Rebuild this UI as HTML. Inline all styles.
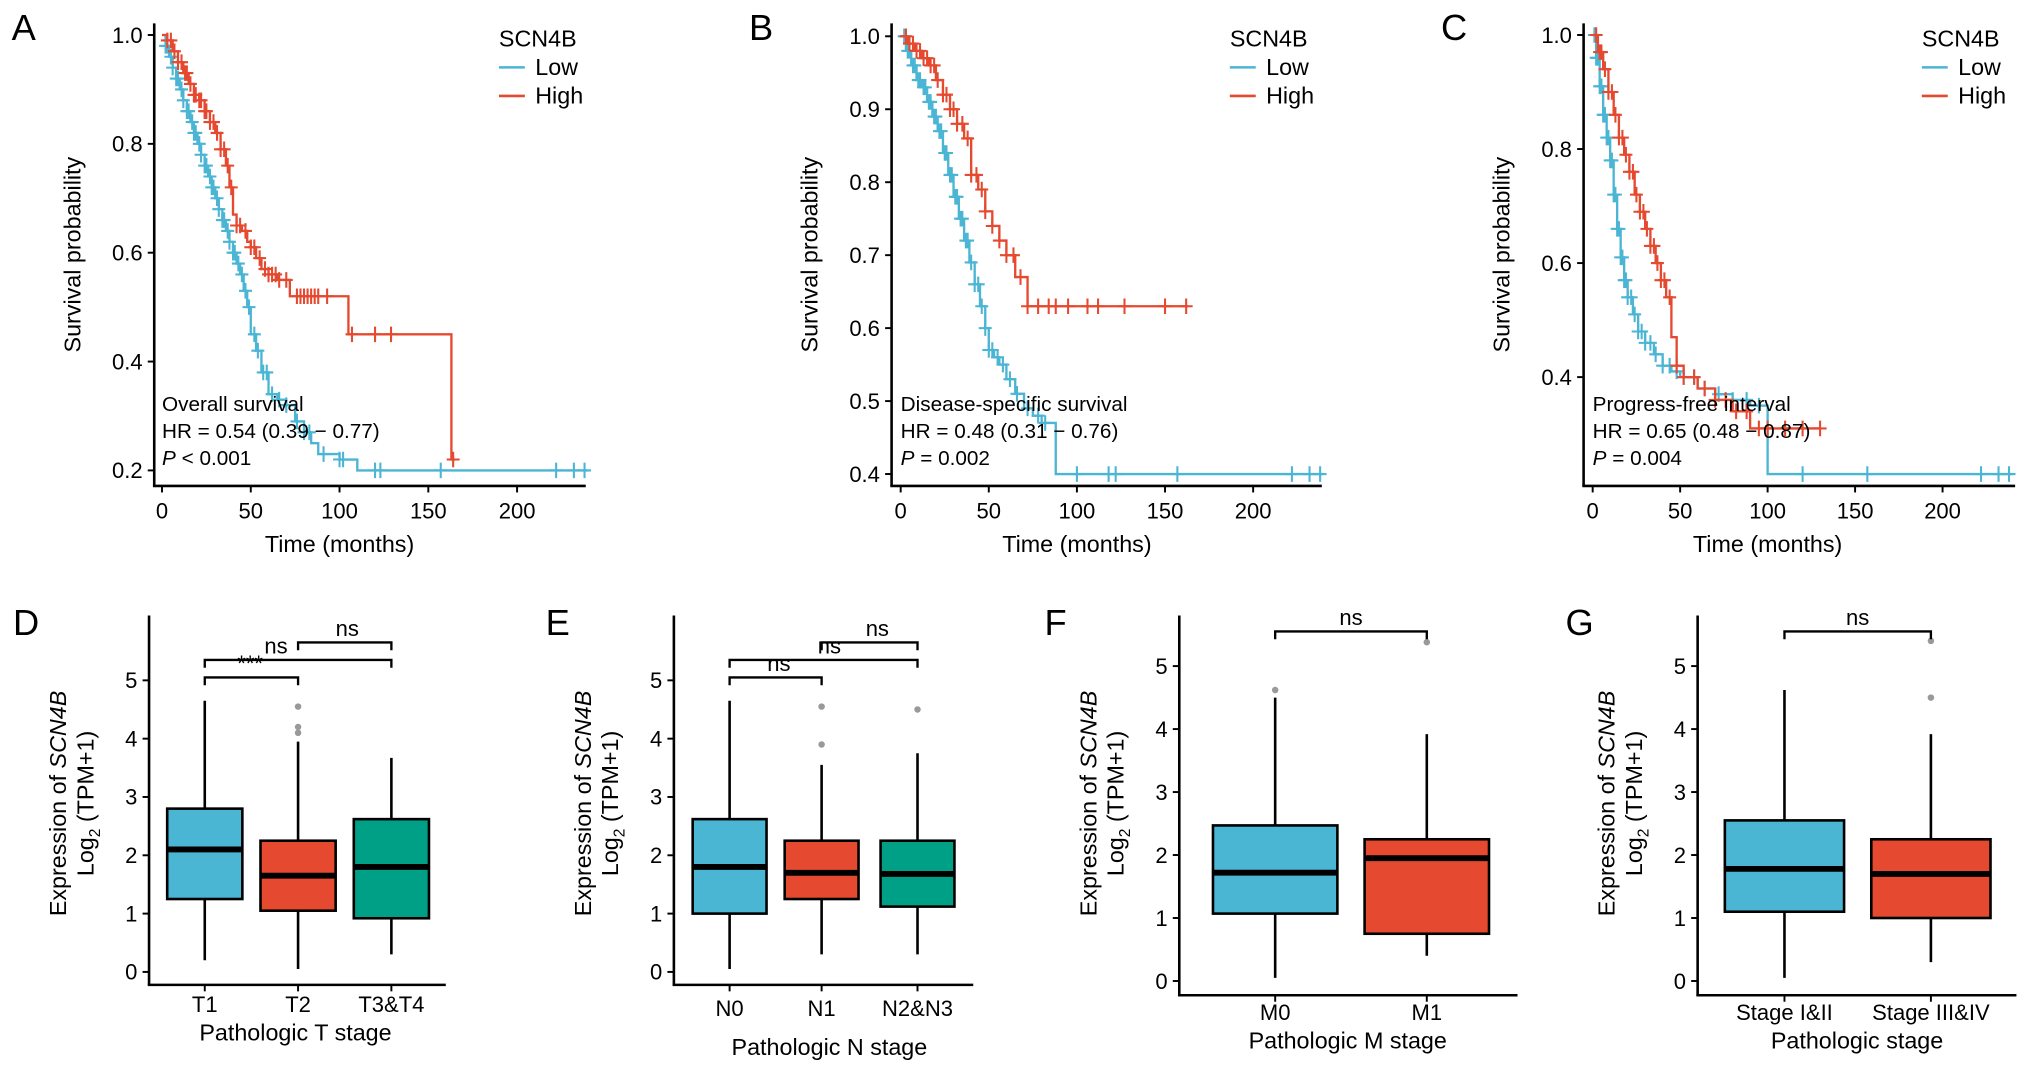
<!DOCTYPE html>
<html><head><meta charset="utf-8"><style>
html,body{margin:0;padding:0;background:#fff;}
svg{display:block;font-family:"Liberation Sans",sans-serif;}
</style></head><body>
<svg id="fig" width="2032" height="1073" viewBox="0 0 1568 828" xmlns="http://www.w3.org/2000/svg"></svg>
<script>
// ---- Survival data (times in months, survival probability) ----
const kmA_low_t=[0,2,4,6,8,10,12,14,16,18,20,22,24,26,28,30,32,34,36,38,40,42,44,46,48,50,53,56,60,65,70,75,80,84,88,100,110,240];
const kmA_low_s=[1,0.98,0.96,0.94,0.92,0.90,0.88,0.86,0.84,0.82,0.80,0.78,0.76,0.74,0.72,0.70,0.68,0.66,0.64,0.62,0.60,0.58,0.56,0.53,0.50,0.45,0.42,0.38,0.34,0.33,0.32,0.29,0.27,0.25,0.23,0.22,0.20,0.20];
const kmA_low_c=[2,3,5,6,8,9,11,12,14,15,17,18,19,21,22,24,25,27,28,29,31,32,34,35,37,38,40,41,43,45,47,49,52,54,57,59,62,66,70,76,80,83,91,100,102,120,123,157,222,232,238];
const kmA_high_t=[0,3,6,9,12,15,18,21,24,27,30,33,36,38,40,42,45,48,50,53,56,60,65,72,105,163,165];
const kmA_high_s=[1,0.99,0.97,0.95,0.93,0.91,0.89,0.88,0.86,0.84,0.82,0.79,0.76,0.72,0.67,0.65,0.64,0.62,0.61,0.59,0.57,0.56,0.55,0.52,0.45,0.22,0.22];
const kmA_high_c=[3,5,7,9,11,13,14,16,18,19,21,22,24,25,27,29,31,33,35,37,39,42,44,47,50,52,55,58,60,62,64,66,70,76,78,80,82,84,86,88,93,107,120,129,164];
const kmB_low_t=[0,3,6,9,12,15,18,21,24,27,30,33,36,39,42,45,48,50,53,56,60,65,70,75,80,88,240];
const kmB_low_s=[1,0.98,0.96,0.94,0.93,0.91,0.89,0.87,0.84,0.81,0.78,0.75,0.72,0.69,0.66,0.63,0.60,0.57,0.56,0.55,0.53,0.51,0.49,0.48,0.47,0.40,0.40];
const kmB_low_c=[2,4,5,7,8,10,11,13,14,16,17,19,20,22,23,25,26,28,29,31,32,34,35,37,38,40,42,44,46,48,50,52,55,58,62,66,72,78,82,100,118,122,157,222,232,238];
const kmB_high_t=[0,4,8,12,16,20,24,28,32,36,40,44,48,52,56,60,65,72,163];
const kmB_high_s=[1,0.99,0.98,0.97,0.96,0.94,0.92,0.90,0.88,0.86,0.81,0.79,0.76,0.74,0.72,0.70,0.67,0.63,0.63];
const kmB_high_c=[3,5,7,9,11,13,15,17,19,21,24,26,28,30,32,35,38,40,43,46,48,52,56,60,64,68,72,78,84,88,95,106,112,127,150,162];
const kmC_low_t=[0,2,4,6,8,10,12,14,16,18,20,23,26,30,35,40,45,50,60,70,80,90,100,240];
const kmC_low_s=[1,0.96,0.91,0.86,0.82,0.78,0.72,0.66,0.61,0.57,0.54,0.51,0.48,0.46,0.44,0.42,0.41,0.40,0.38,0.37,0.36,0.35,0.23,0.23];
const kmC_low_c=[1,2,3,4,5,6,7,8,9,10,11,12,13,14,15,16,17,18,19,20,22,24,26,28,30,33,36,40,44,48,52,58,64,72,80,88,95,120,157,222,232,238];
const kmC_high_t=[0,3,6,9,12,15,18,21,24,27,30,33,36,39,42,45,48,52,60,70,80,90,130];
const kmC_high_s=[1,0.97,0.94,0.90,0.86,0.82,0.79,0.76,0.72,0.69,0.66,0.63,0.60,0.57,0.54,0.47,0.42,0.40,0.38,0.36,0.34,0.31,0.31];
const kmC_high_c=[2,4,5,7,9,11,13,15,17,19,21,23,25,27,29,31,33,35,37,39,41,44,48,52,58,64,70,76,82,88,95,100,110,120,130];

// ---- Boxplot data: [low whisker, q1, median, q3, high whisker] ----
const catsD=["T1","T2","T3&T4"];
const statsD=[[0.2,1.25,2.1,2.8,4.65],[0.05,1.05,1.65,2.25,3.95],[0.3,0.92,1.8,2.62,3.67]];
const outD=[[],[4.1,4.2,4.55],[]];
const catsE=["N0","N1","N2&N3"];
const statsE=[[0.05,1.0,1.8,2.62,4.65],[0.3,1.25,1.7,2.25,3.55],[0.3,1.12,1.68,2.25,3.75]];
const outE=[[],[3.9,4.55],[4.5]];
const catsF=["M0","M1"];
const statsF=[[0.05,1.07,1.72,2.47,4.5],[0.4,0.75,1.95,2.25,3.92]];
const outF=[[4.62],[5.38]];
const catsG=["Stage I&II","Stage III&IV"];
const statsG=[[0.05,1.1,1.78,2.55,4.62],[0.3,1.0,1.7,2.25,3.92]];
const outG=[[],[4.5,5.4]];
const yTicksBox=[0,1,2,3,4,5];

const NS="http://www.w3.org/2000/svg";
const svg=document.getElementById('fig');
function el(tag,attrs,parent,txt){const e=document.createElementNS(NS,tag);for(const k in attrs)e.setAttribute(k,attrs[k]);if(txt!==undefined)e.textContent=txt;(parent||svg).appendChild(e);return e;}
const BLUE="#4bb5d4",RED="#e5492f",GREEN="#00a087";

function stepS(ts,ss,t){let v=ss[0];for(let i=0;i<ts.length;i++){if(ts[i]<=t)v=ss[i];}return v;}

function kmPanel(cfg){
  const g=el('g',{});
  
  
  const X=t=>cfg.x0+t*cfg.xs, Y=s=>cfg.yTop+(cfg.yMax-s)*cfg.ys;
  const ax=el('line',{x1:cfg.ax,y1:18,x2:cfg.ax,y2:cfg.axY,stroke:'#000','stroke-width':2},g);
  
  const axx=el('line',{x1:cfg.ax-1,y1:cfg.axY,x2:cfg.axEnd,y2:cfg.axY,stroke:'#000','stroke-width':2},g);
  
  cfg.yt.forEach(v=>{el('line',{x1:cfg.ax-5,y1:Y(v),x2:cfg.ax,y2:Y(v),stroke:'#000','stroke-width':1.5},g);
    const t=el('text',{x:cfg.ax-9,y:Y(v)+6,'text-anchor':'end','font-size':17},g,v.toFixed(1));
    });
  [0,50,100,150,200].forEach(v=>{el('line',{x1:X(v),y1:cfg.axY,x2:X(v),y2:cfg.axY+5,stroke:'#000','stroke-width':1.5},g);
    const t=el('text',{x:X(v),y:cfg.axY+25,'text-anchor':'middle','font-size':17},g,String(v));
    });
  const xt=el('text',{x:X(100),y:cfg.axY+51,'text-anchor':'middle','font-size':18},g,'Time (months)');
  
  const cy=(18+cfg.axY)/2;
  const yt=el('text',{x:cfg.ax-57,y:cy,'text-anchor':'middle','font-size':18,transform:`rotate(-90 ${cfg.ax-57} ${cy})`},g,'Survival probability');
  
  const lt=el('text',{x:cfg.ax-110,y:31,'font-size':28},g,cfg.letter);
  
  cfg.series.forEach(s=>{
    let d=`M${X(s.t[0])},${Y(s.s[0])}`;
    for(let i=1;i<s.t.length;i++){d+=` H${X(s.t[i])} V${Y(s.s[i])}`;}
    const p=el('path',{d:d,fill:'none',stroke:s.col,'stroke-width':1.8},g);
    
    s.c.forEach(ct=>{const yy=Y(stepS(s.t,s.s,ct));
      const m=el('path',{d:`M${X(ct)},${yy-6} V${yy+6} M${X(ct)-5},${yy} H${X(ct)+5}`,stroke:s.col,'stroke-width':1.6},g);
      });
  });
  const lg=el('g',{},g);
  el('text',{x:cfg.lx,y:36,'font-size':18},lg,'SCN4B');
  [[BLUE,'Low',58],[RED,'High',80]].forEach(a=>{
    const le=el('g',{},lg);
    el('line',{x1:cfg.lx,y1:a[2]-6,x2:cfg.lx+20,y2:a[2]-6,stroke:a[0],'stroke-width':2},le);
    el('text',{x:cfg.lx+28,y:a[2],'font-size':18},le,a[1]);});
  const an=el('g',{},g);
  el('text',{x:X(0),y:317,'font-size':16},an,cfg.title);
  el('text',{x:X(0),y:338,'font-size':16},an,cfg.hr);
  const pt=el('text',{x:X(0),y:359,'font-size':16},an);
  el('tspan',{'font-style':'italic'},pt,'P');el('tspan',{},pt,cfg.p);
}

kmPanel({name:'km-overall-survival',letter:'A',ax:119,axY:375,axEnd:452,x0:125,xs:68.5/50,yTop:27,yMax:1.0,ys:84/0.2,yt:[1.0,0.8,0.6,0.4,0.2],lx:385,
  title:'Overall survival',hr:'HR = 0.54 (0.39 − 0.77)',p:' < 0.001',
  series:[{name:'low',col:BLUE,t:kmA_low_t,s:kmA_low_s,c:kmA_low_c},{name:'high',col:RED,t:kmA_high_t,s:kmA_high_s,c:kmA_high_c}]});
kmPanel({name:'km-disease-specific-survival',letter:'B',ax:688,axY:375,axEnd:1020,x0:695,xs:68/50,yTop:28,yMax:1.0,ys:56.3/0.1,yt:[1.0,0.9,0.8,0.7,0.6,0.5,0.4],lx:949,
  title:'Disease-specific survival',hr:'HR = 0.48 (0.31 − 0.76)',p:' = 0.002',
  series:[{name:'low',col:BLUE,t:kmB_low_t,s:kmB_low_s,c:kmB_low_c},{name:'high',col:RED,t:kmB_high_t,s:kmB_high_s,c:kmB_high_c}]});
kmPanel({name:'km-progress-free-interval',letter:'C',ax:1222,axY:375,axEnd:1555,x0:1229,xs:67.5/50,yTop:27,yMax:1.0,ys:88/0.2,yt:[1.0,0.8,0.6,0.4],lx:1483,
  title:'Progress-free interval',hr:'HR = 0.65 (0.48 − 0.87)',p:' = 0.004',
  series:[{name:'low',col:BLUE,t:kmC_low_t,s:kmC_low_s,c:kmC_low_c},{name:'high',col:RED,t:kmC_high_t,s:kmC_high_s,c:kmC_high_c}]});

function boxPanel(cfg){
  const g=el('g',{});
  
  
  const Y=v=>cfg.y0-v*cfg.ys;
  const ax=el('line',{x1:cfg.ax,y1:475,x2:cfg.ax,y2:cfg.axY,stroke:'#000','stroke-width':2},g);
  
  const axx=el('line',{x1:cfg.ax-1,y1:cfg.axY,x2:cfg.axEnd,y2:cfg.axY,stroke:'#000','stroke-width':2},g);
  
  yTicksBox.forEach(v=>{el('line',{x1:cfg.ax-5,y1:Y(v),x2:cfg.ax,y2:Y(v),stroke:'#000','stroke-width':1.5},g);
    const t=el('text',{x:cfg.ax-9,y:Y(v)+6,'text-anchor':'end','font-size':17},g,String(v));
    });
  const lt=el('text',{x:cfg.letterX,y:490,'font-size':28},g,cfg.letter);
  
  const cy=620;
  const y1=el('text',{x:cfg.ax-64,y:cy,'text-anchor':'middle','font-size':18,transform:`rotate(-90 ${cfg.ax-64} ${cy})`},g);
  
  el('tspan',{},y1,'Expression of ');el('tspan',{'font-style':'italic'},y1,'SCN4B');
  const y2=el('text',{x:cfg.ax-43,y:cy,'text-anchor':'middle','font-size':18,transform:`rotate(-90 ${cfg.ax-43} ${cy})`},g);
  
  el('tspan',{},y2,'Log');el('tspan',{'font-size':12,dy:5},y2,'2');el('tspan',{dy:-5},y2,' (TPM+1)');
  cfg.cats.forEach((c,i)=>{
    const x=cfg.xs[i],st=cfg.stats[i],hw=cfg.bw/2;
    const b=el('g',{},g);
    el('line',{x1:x,y1:Y(st[0]),x2:x,y2:Y(st[4]),stroke:'#000','stroke-width':2},b);
    el('rect',{x:x-hw,y:Y(st[3]),width:cfg.bw,height:Y(st[1])-Y(st[3]),fill:cfg.cols[i],stroke:'#000','stroke-width':2},b);
    el('line',{x1:x-hw,y1:Y(st[2]),x2:x+hw,y2:Y(st[2]),stroke:'#000','stroke-width':4.5},b);
    cfg.out[i].forEach(o=>{const p=el('circle',{cx:x,cy:Y(o),r:2.5,fill:'#999'},g);
      });
    el('line',{x1:x,y1:cfg.axY,x2:x,y2:cfg.axY+5,stroke:'#000','stroke-width':1.5},g);
    const t=el('text',{x:x,y:cfg.axY+cfg.tkOff,'text-anchor':'middle','font-size':17},g,c);
    
  });
  const xt=el('text',{x:cfg.titleX,y:cfg.titleY,'text-anchor':'middle','font-size':18},g,cfg.xtitle);
  
  cfg.brackets.forEach(br=>{
    const a=cfg.xs[br[0]],bb=cfg.xs[br[1]],yy=Y(br[2]);
    const p=el('path',{d:`M${a},${yy+6} V${yy} H${bb} V${yy+6}`,fill:'none',stroke:'#000','stroke-width':1.8},g);
    
    const t=el('text',{x:br[4]!==undefined?br[4]:(a+bb)/2,y:yy-5,'text-anchor':'middle','font-size':17},g,br[3]);
    
  });
}
boxPanel({name:'box-t-stage',letter:'D',letterX:10,ax:115,axY:760,axEnd:344,y0:750,ys:45,xs:[158,230,302],bw:58,cats:catsD,stats:statsD,out:outD,cols:[BLUE,RED,GREEN],tkOff:21,titleX:228,titleY:803,xtitle:'Pathologic T stage',
  brackets:[[0,1,5.05,'***',193],[0,2,5.35,'ns',213],[1,2,5.65,'ns',268]]});
boxPanel({name:'box-n-stage',letter:'E',letterX:421,ax:520,axY:760,axEnd:751,y0:750,ys:45,xs:[563,634,708],bw:57,cats:catsE,stats:statsE,out:outE,cols:[BLUE,RED,GREEN],tkOff:24,titleX:640,titleY:814,xtitle:'Pathologic N stage',
  brackets:[[0,1,5.05,'ns',601],[0,2,5.35,'ns',640],[1,2,5.65,'ns',677]]});
boxPanel({name:'box-m-stage',letter:'F',letterX:806,ax:910,axY:768,axEnd:1171,y0:757,ys:48.6,xs:[984,1101],bw:96,cats:catsF,stats:statsF,out:outF,cols:[BLUE,RED],tkOff:19,titleX:1040,titleY:809,xtitle:'Pathologic M stage',
  brackets:[[0,1,5.55,'ns']]});
boxPanel({name:'box-pathologic-stage',letter:'G',letterX:1208,ax:1310,axY:768,axEnd:1556,y0:757,ys:48.6,xs:[1377,1490],bw:92,cats:catsG,stats:statsG,out:outG,cols:[BLUE,RED],tkOff:19,titleX:1433,titleY:809,xtitle:'Pathologic stage',
  brackets:[[0,1,5.55,'ns']]});
</script>
</body></html>
